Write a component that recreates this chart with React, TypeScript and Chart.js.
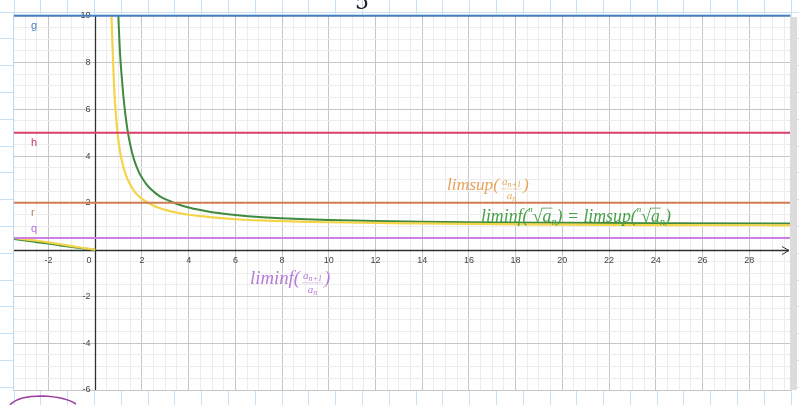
import React, { useEffect, useRef } from "react";
import { Chart, registerables } from "chart.js";

Chart.register(...registerables);

// ---- view window (graph units) ----
const X_MIN = -3.48;
const X_MAX = 29.75;
const Y_MIN = -6.0;
const Y_MAX = 10.03;

// ---- tick labels ----
const xTickValues = [-2, 2, 4, 6, 8, 10, 12, 14, 16, 18, 20, 22, 24, 26, 28];
const yTickValues = [10, 8, 6, 4, 2, -2, -4, -6];

// ---- horizontal lines ----
const lineNames = ["g", "h", "r", "q"];
const lineValues = [10, 5, 2, 0.5];
const lineColors = ["#4a7dbf", "#d8406a", "#cf7d4f", "#cc80e6"];
const lineLabelColors = ["#4a7dbf", "#c83a60", "#b8806a", "#b070e0"];

// ---- curves ----
const leftX = [-3.48, -3, -2.5, -2, -1.5, -1, -0.5, 0];
const leftGreen = [0.46, 0.39, 0.32, 0.26, 0.18, 0.11, 0.05, 0];
const leftYellow = [0.5, 0.44, 0.38, 0.31, 0.23, 0.15, 0.07, 0];

const yellowX = [0.69, 0.72, 0.75, 0.8, 0.85, 0.9, 0.95, 1.0, 1.1, 1.2, 1.3, 1.4, 1.5, 1.6, 1.8, 2.0, 2.25, 2.5, 2.75, 3, 3.5, 4, 4.5, 5, 6, 7, 8, 9, 10, 12, 14, 17, 20, 24, 29.75];
const yellowY = [10.2, 9.2, 8.4, 7.1, 6.2, 5.6, 5.0, 4.6, 3.98, 3.55, 3.22, 2.97, 2.77, 2.6, 2.35, 2.17, 2.01, 1.88, 1.78, 1.7, 1.58, 1.49, 1.43, 1.38, 1.3, 1.25, 1.22, 1.19, 1.17, 1.14, 1.12, 1.09, 1.07, 1.05, 1.04];

const greenX = [0.98, 1.0, 1.05, 1.1, 1.15, 1.2, 1.3, 1.4, 1.5, 1.6, 1.7, 1.8, 1.9, 2.0, 2.25, 2.5, 2.75, 3, 3.33, 3.5, 4, 4.5, 5, 6, 7, 8, 9, 10, 12, 14, 17, 20, 24, 29.75];
const greenY = [10.3, 9.7, 8.6, 7.8, 7.2, 6.6, 5.7, 5.0, 4.47, 4.06, 3.73, 3.47, 3.25, 3.07, 2.72, 2.48, 2.29, 2.16, 2.02, 1.95, 1.8, 1.69, 1.6, 1.48, 1.39, 1.34, 1.3, 1.27, 1.22, 1.19, 1.16, 1.145, 1.13, 1.12];

const GREEN = "#3f8a3f";
const YELLOW = "#f4d54a";

const pts = (xs: number[], ys: number[]) => xs.map((x, i) => ({ x, y: ys[i] }));

type Seg = { t: string; s: number; dy?: number; italic?: boolean; over?: boolean };

function drawRich(ctx: CanvasRenderingContext2D, x: number, base: number, segs: Seg[], color: string, scale = 1) {
  let cx = x;
  ctx.fillStyle = color;
  ctx.strokeStyle = color;
  ctx.textAlign = "left";
  ctx.textBaseline = "alphabetic";
  for (const sg of segs) {
    const size = sg.s * scale;
    ctx.font = `${sg.italic === false ? "" : "italic "}${size}px "Liberation Serif", "DejaVu Serif", serif`;
    ctx.fillText(sg.t, cx, base + (sg.dy || 0) * scale);
    const w = ctx.measureText(sg.t).width;
    if (sg.over) {
      ctx.lineWidth = 0.8;
      ctx.beginPath();
      ctx.moveTo(cx - 1, base - size * 0.78);
      ctx.lineTo(cx + w + 1, base - size * 0.78);
      ctx.stroke();
    }
    cx += w;
  }
  return cx - x;
}

function measureRich(ctx: CanvasRenderingContext2D, segs: Seg[]) {
  let w = 0;
  for (const sg of segs) {
    ctx.font = `${sg.italic === false ? "" : "italic "}${sg.s}px "Liberation Serif", "DejaVu Serif", serif`;
    w += ctx.measureText(sg.t).width;
  }
  return w;
}

function drawFrac(
  ctx: CanvasRenderingContext2D,
  x: number,
  base: number,
  prefix: string,
  prefixWidth: number,
  color: string
) {
  const pSegs: Seg[] = [{ t: prefix + "(", s: 14 }];
  const sc = prefixWidth / measureRich(ctx, pSegs);
  drawRich(ctx, x, base, pSegs, color, sc);
  const fx = x + prefixWidth + 2;
  const num: Seg[] = [{ t: "a", s: 11 }, { t: "n+1", s: 8, dy: 2 }];
  const den: Seg[] = [{ t: "a", s: 11 }, { t: "n", s: 8, dy: 2 }];
  const nw = measureRich(ctx, num);
  const dw = measureRich(ctx, den);
  const fw = Math.max(nw, dw) + 2;
  drawRich(ctx, fx + (fw - nw) / 2, base - 5, num, color);
  drawRich(ctx, fx + (fw - dw) / 2, base + 9, den, color);
  ctx.globalAlpha = 0.5;
  ctx.fillRect(fx, base - 1.5, fw, 0.8);
  ctx.globalAlpha = 1;
  drawRich(ctx, fx + fw + 1, base, [{ t: ")", s: 14 }], color, sc);
}

const bgPlugin = {
  id: "bg",
  beforeDraw(chart: any) {
    const { ctx, chartArea: a, width, height } = chart;
    ctx.save();
    ctx.fillStyle = "#ffffff";
    ctx.fillRect(0, 0, width, height);
    ctx.strokeStyle = "#c6e2f6";
    ctx.lineWidth = 1;
    for (let x = 13.5; x < width; x += 26.8) {
      ctx.beginPath();
      ctx.moveTo(Math.round(x) + 0.5, 0);
      ctx.lineTo(Math.round(x) + 0.5, height);
      ctx.stroke();
    }
    for (let y = 11.5; y < height; y += 26.8) {
      ctx.beginPath();
      ctx.moveTo(0, Math.round(y) + 0.5);
      ctx.lineTo(width, Math.round(y) + 0.5);
      ctx.stroke();
    }
    ctx.fillStyle = "#ffffff";
    ctx.fillRect(a.left, a.top, a.right - a.left, a.bottom - a.top);
    ctx.strokeStyle = "#bcd8ee";
    ctx.strokeRect(a.left - 0.5, a.top - 0.5, a.right - a.left + 1, a.bottom - a.top + 1);
    // scrollbar strip
    ctx.fillStyle = "#dcdcdc";
    ctx.fillRect(a.right, a.top + 2, 7, a.bottom - a.top - 2);
    // partial "5" on top
    ctx.fillStyle = "#222";
    ctx.font = '22px "DejaVu Serif", serif';
    ctx.textAlign = "left";
    ctx.textBaseline = "alphabetic";
    ctx.fillText("5", 355, 9);
    // pen scribble
    ctx.strokeStyle = "#9c3e9c";
    ctx.lineWidth = 1.6;
    ctx.beginPath();
    ctx.moveTo(10, 405);
    ctx.quadraticCurveTo(18, 396, 42, 396);
    ctx.quadraticCurveTo(66, 397, 76, 404);
    ctx.stroke();
    ctx.restore();
  },
};

const axesPlugin = {
  id: "axes",
  beforeDatasetsDraw(chart: any) {
    const { ctx, chartArea: a, scales } = chart;
    const xs = scales.x;
    const ys = scales.y;
    const x0 = Math.round(xs.getPixelForValue(0)) + 0.5;
    const y0 = Math.round(ys.getPixelForValue(0)) + 0.5;
    ctx.save();
    ctx.strokeStyle = "#303030";
    ctx.lineWidth = 1.3;
    ctx.beginPath();
    ctx.moveTo(a.left, y0);
    ctx.lineTo(a.right - 1, y0);
    ctx.moveTo(x0, a.top);
    ctx.lineTo(x0, a.bottom);
    ctx.stroke();
    ctx.lineWidth = 1;
    ctx.beginPath();
    ctx.moveTo(a.right - 8, y0 - 4);
    ctx.lineTo(a.right - 1, y0);
    ctx.lineTo(a.right - 8, y0 + 4);
    ctx.stroke();
    ctx.fillStyle = "#444";
    ctx.font = '9px "Liberation Sans", Arial, sans-serif';
    ctx.textBaseline = "middle";
    ctx.textAlign = "center";
    for (const v of xTickValues) {
      ctx.fillText(String(v), xs.getPixelForValue(v), y0 + 10);
    }
    ctx.textAlign = "right";
    ctx.fillText("0", x0 - 4, y0 + 10);
    for (const v of yTickValues) {
      ctx.fillText(String(v), x0 - 5, ys.getPixelForValue(v));
    }
    ctx.restore();
  },
};

const labelPlugin = {
  id: "labels",
  afterDraw(chart: any) {
    const { ctx, scales } = chart;
    const ys = scales.y;
    ctx.save();
    ctx.font = '11px "Liberation Sans", Arial, sans-serif';
    ctx.textAlign = "left";
    ctx.textBaseline = "middle";
    lineNames.forEach((n, i) => {
      ctx.fillStyle = lineLabelColors[i];
      const yy = ys.getPixelForValue(lineValues[i]);
      const off = i === 3 ? -9 : 10;
      ctx.fillText(n, 31, yy + off);
    });
    // orange limsup label
    drawFrac(ctx, 447, 190, "limsup", 52, "#e8a45a");
    // purple liminf label
    drawFrac(ctx, 250, 284, "liminf", 50, "#b47ad8");
    // green label
    const root: Seg[] = [
      { t: "n", s: 6, dy: -7 },
      { t: "√", s: 12, italic: false },
      { t: "a", s: 12, over: true },
      { t: "n", s: 7, dy: 2 },
    ];
    const gSegs: Seg[] = [
      { t: "liminf(", s: 12 },
      ...root,
      { t: ") = limsup(", s: 12 },
      ...root,
      { t: ")", s: 12 },
    ];
    const gw = measureRich(ctx, gSegs);
    drawRich(ctx, 481, 222, gSegs, "#46a046", 190 / gw);
    ctx.restore();
  },
};

export default function App() {
  const ref = useRef<HTMLCanvasElement>(null);
  useEffect(() => {
    const canvas = ref.current;
    if (!canvas) return;
    const hLines = lineValues.map((v, i) => ({
      label: lineNames[i],
      data: [
        { x: X_MIN, y: v },
        { x: X_MAX, y: v },
      ],
      borderColor: lineColors[i],
      borderWidth: 2,
      pointRadius: 0,
    }));
    const curve = (data: any, color: string, w: number) => ({
      data,
      borderColor: color,
      borderWidth: w,
      pointRadius: 0,
      cubicInterpolationMode: "monotone" as const,
    });
    const gridColor = (c: any) => {
      const v = c.tick ? c.tick.value : NaN;
      if (!isFinite(v) || Math.abs(v) < 1e-9) return "rgba(0,0,0,0)";
      return Math.abs(v % 2) < 1e-9 ? "#c6c6c6" : "#ececec";
    };
    const chart = new Chart(canvas, {
      type: "line",
      data: {
        datasets: [
          ...hLines,
          curve(pts(leftX, leftYellow), YELLOW, 2.2),
          curve(pts(yellowX, yellowY), YELLOW, 2.2),
          curve(pts(leftX, leftGreen), GREEN, 2),
          curve(pts(greenX, greenY), GREEN, 2),
        ] as any,
      },
      options: {
        animation: false,
        responsive: false,
        devicePixelRatio: 1,
        events: [],
        layout: { padding: { left: 14, top: 15, right: 9, bottom: 15 } },
        plugins: { legend: { display: false }, tooltip: { enabled: false } },
        scales: {
          x: {
            type: "linear",
            min: X_MIN,
            max: X_MAX,
            ticks: { display: false, stepSize: 0.5, includeBounds: false },
            grid: { drawTicks: false, color: gridColor, lineWidth: 1 },
            border: { display: false },
          },
          y: {
            type: "linear",
            min: Y_MIN,
            max: Y_MAX,
            ticks: { display: false, stepSize: 0.5, includeBounds: false },
            grid: { drawTicks: false, color: gridColor, lineWidth: 1 },
            border: { display: false },
          },
        },
      } as any,
      plugins: [bgPlugin, axesPlugin, labelPlugin],
    });
    return () => chart.destroy();
  }, []);
  return (
    <div style={{ position: "absolute", left: 0, top: 0, width: 799, height: 405 }}>
      <canvas ref={ref} width={799} height={405} style={{ display: "block" }} />
    </div>
  );
}
